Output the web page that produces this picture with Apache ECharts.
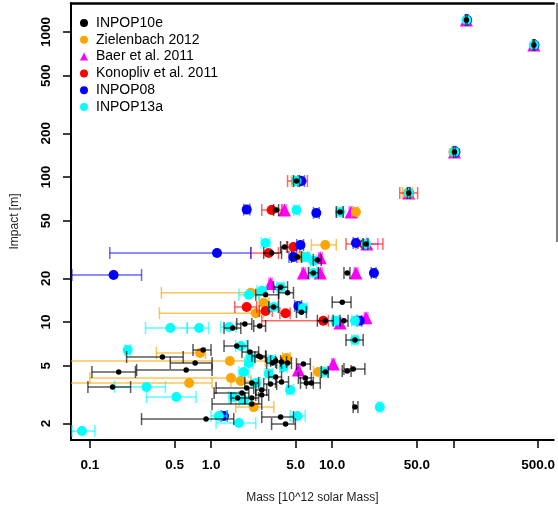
<!DOCTYPE html>
<html><head><meta charset="utf-8">
<script src="https://cdn.jsdelivr.net/npm/echarts@6.0.0/dist/echarts.min.js"></script>
<style>html,body{margin:0;padding:0;background:#fff}#c{width:558px;height:509px}</style>
</head><body><div id="c"></div>
<script>
// tick positions / labels
const xTicks = [0.1, 0.5, 1, 5, 10, 50, 100, 500];
const xLabels = [0.1, 0.5, 1, 5, 10, 50, 500];
const yTicks = [2, 5, 10, 20, 50, 100, 200, 500, 1000];

const seriesNames = ['INPOP10e', 'Zielenbach 2012', 'Baer et al. 2011', 'Konopliv et al. 2011', 'INPOP08', 'INPOP13a'];
const seriesColors = ['#000000', '#FFA500', '#FF00FF', '#FF0000', '#0000FF', '#00FFFF'];

// rows: [mass, massLow, massHigh, impact]
const inpop10e = [
  [128,126,130,1211],[461,455,467,813],[102,100,104,149],[42.8,41.8,43.8,77.6],
  [5.07,4.79,5.37,93.8],[3.48,3.28,3.61,59.2],[11.6,10.8,12.3,57.4],[4.04,3.75,4.28,32.9],
  [19.0,18.0,19.7,34.5],[3.16,2.72,3.82,29.9],[5.17,4.61,5.57,28.1],[7.54,6.98,8.12,26.8],
  [6.98,6.36,7.68,21.8],[13.3,12.5,14.0,21.8],[2.82,2.34,3.61,15.4],[3.75,3.28,4.28,17.4],
  [4.28,3.61,4.79,15.9],[12.1,10.0,14.3,13.7],[3.28,3.0,3.61,12.7],[5.57,5.07,6.12,11.7],
  [8.76,7.54,10.2,10.2],[12.5,11.6,13.5,10.2],[1.51,1.28,1.76,9.09],[1.90,1.63,2.17,9.69],
  [2.52,2.25,2.82,9.38],[15.4,13.0,18.0,7.51],[1.63,1.28,2.01,6.83],[0.86,0.71,1.0,6.41],
  [0.397,0.201,0.589,5.74],[2.09,1.80,2.47,6.21],[2.47,2.17,2.82,5.83],[0.739,0.461,1.02,5.21],
  [3.41,3.10,3.75,5.38],[3.82,3.41,4.20,5.30],[4.28,3.82,4.61,5.21],[5.78,5.07,6.60,5.13],
  [3.22,2.88,3.48,5.21],[0.624,0.243,1.02,4.67],[0.173,0.104,0.238,4.52],[8.76,8.12,9.27,4.52],
  [13.3,12.1,14.3,4.59],[14.9,12.5,18.6,4.74],[3.41,2.99,3.82,4.18],[6.0,5.26,6.73,4.11],
  [2.17,1.90,2.47,3.80],[3.10,2.72,3.48,3.74],[3.82,3.41,4.36,3.86],[6.12,5.47,6.98,3.80],
  [6.73,6.12,7.97,3.80],[0.154,0.0964,0.217,3.56],[1.97,1.10,2.25,3.51],[2.62,2.34,2.88,3.40],
  [1.80,1.06,2.05,3.24],[2.62,2.34,2.99,3.14],[1.66,1.46,1.90,2.99],[2.17,1.90,2.47,2.99],
  [2.17,1.02,2.62,2.72],[15.4,14.9,16.3,2.59],[0.91,0.267,1.54,2.14],[3.75,2.62,4.79,2.21],
  [4.12,3.16,4.97,1.98],[2.57,2.3,2.85,5.74]
];
const zielenbach2012 = [
  [100,98,103,149],[42,38,46,77.6],[5.0,4.6,5.5,93.8],[8.76,6.73,10.8,34.0],
  [15.7,14.5,16.3,57.4],[2.13,0.389,2.52,15.9],[2.34,0.375,2.72,11.5],[0.813,0.354,0.90,6.11],
  [1.43,0.05,2.8,5.38],[1.46,0.1,1.80,4.11],[0.66,0.05,1.02,3.80],[1.76,1.46,2.13,3.92],
  [2.25,1.6,3.3,2.59],[4.20,3.9,4.5,5.65],[7.68,7.0,8.4,4.52],[2.72,2.5,3.0,13.5],
  [5.78,5.3,6.3,28.1]
];
const baer2011 = [
  [128,125,131,1211],[461,452,470,813],[102,100,104,149],[42.8,41.8,43.8,77.6],
  [4.04,3.9,4.2,59.2],[14.3,13.8,14.9,57.4],[19.3,15.7,23.8,34.5],[7.97,7.7,8.3,27.7],
  [5.78,5.6,6.0,21.8],[7.97,7.7,8.3,21.8],[15.7,15.2,16.3,21.8],[3.10,3.0,3.2,18.4],
  [19.0,18.4,19.7,10.7],[11.6,11.2,12.0,9.85],[5.26,5.1,5.45,4.67],[10.2,9.9,10.5,5.13]
];
const konopliv2011 = [
  [43,36.1,50.7,77.6],[5.17,4.28,6.24,93.8],[3.16,2.62,3.82,59.2],[18.3,13.0,26.2,34.5],
  [4.79,4.2,5.4,32.9],[2.99,2.13,3.6,29.9],[1.97,1.57,2.38,12.7],[2.82,2.5,3.2,11.9],
  [4.12,3.7,4.5,11.5],[8.44,2.62,9.3,10.2]
];
const inpop08 = [
  [130,128,132,1211],[467,461,473,813],[104,102,106,149],[5.57,5.2,5.9,93.8],
  [1.97,1.86,2.09,59.6],[7.39,7.0,7.8,56.5],[5.47,5.1,5.8,34.0],[15.7,14.9,16.3,35.1],
  [1.12,0.146,2.13,29.9],[4.79,4.4,5.1,28.1],[22.1,21.0,23.0,21.8],[0.157,0.0712,0.267,21.1],
  [5.26,4.9,5.6,12.9],[16.9,16.0,17.5,10.2],[1.28,1.21,1.36,2.25]
];
const inpop13a = [
  [128,126,130,1211],[461,455,467,813],[102,100,104,149],[42.8,41.8,43.8,77.6],
  [5.07,4.85,5.3,93.8],[5.07,4.8,5.35,59.2],[11.6,11.0,12.2,57.4],[2.82,2.6,3.05,35.1],
  [19.0,18.0,20.0,34.5],[6.12,5.7,6.5,28.1],[6.98,6.6,7.4,26.5],[6.98,6.5,7.5,21.8],
  [2.05,1.70,2.47,15.4],[2.62,2.4,2.85,16.4],[3.75,3.5,4.0,17.4],[3.28,3.0,3.55,12.7],
  [5.78,5.3,6.2,12.5],[10.6,10.0,11.3,10.2],[15.4,14.5,16.3,10.2],[0.461,0.288,0.636,9.09],
  [0.797,0.636,0.96,9.09],[1.41,1.2,1.6,9.23],[0.205,0.195,0.215,6.41],[1.76,1.6,1.95,6.83],
  [15.4,14.5,16.3,7.51],[2.05,1.9,2.2,5.21],[2.13,1.95,2.3,5.65],[3.16,2.95,3.4,5.47],
  [3.97,3.7,4.25,4.90],[8.6,8.1,9.1,4.52],[0.293,0.16,0.42,3.56],[2.34,2.15,2.55,3.80],
  [1.86,1.7,2.05,2.90],[1.54,1.4,1.7,3.04],[0.517,0.293,0.753,3.04],[1.16,1.0,1.35,2.25],
  [1.70,1.10,2.34,2.01],[0.086,0.0712,0.110,1.77],[5.17,4.5,6.0,2.25],[24.7,23.8,25.5,2.59],
  [4.5,4.2,4.8,3.40],[1.86,1.7,2.05,4.52],[3.0,2.8,3.2,4.4]
];

const allData = [inpop10e, zielenbach2012, baer2011, konopliv2011, inpop08, inpop13a];
const symbols = ['circle', 'circle', 'triangle', 'circle', 'circle', 'circle'];
const sizes = [5.5, 10, 13, 10, 10, 10];
const barAlpha = [0.65, 0.65, 0.55, 0.6, 0.6, 0.65];
// drawing order (bottom to top)
const drawOrder = [2, 1, 3, 4, 5, 0];

function hexToRgba(hex, a) {
  const n = parseInt(hex.slice(1), 16);
  return 'rgba(' + ((n >> 16) & 255) + ',' + ((n >> 8) & 255) + ',' + (n & 255) + ',' + a + ')';
}

const series = [];
drawOrder.forEach(function (i, k) {
  const col = seriesColors[i];
  const stroke = hexToRgba(col, barAlpha[i]);
  series.push({
    type: 'custom',
    name: seriesNames[i] + ' (err)',
    clip: true,
    z: 2 + k * 2,
    silent: true,
    data: allData[i].map(function (d) { return [d[0], d[1], d[2], d[3]]; }),
    encode: { x: 0, y: 3 },
    renderItem: function (params, api) {
      const y = api.value(3);
      const a = api.coord([api.value(1), y]);
      const b = api.coord([api.value(2), y]);
      const h = 6;
      const st = { stroke: stroke, lineWidth: 1.5 };
      return {
        type: 'group',
        children: [
          { type: 'line', shape: { x1: a[0], y1: a[1], x2: b[0], y2: b[1] }, style: st },
          { type: 'line', shape: { x1: a[0], y1: a[1] - h, x2: a[0], y2: a[1] + h }, style: st },
          { type: 'line', shape: { x1: b[0], y1: b[1] - h, x2: b[0], y2: b[1] + h }, style: st }
        ]
      };
    }
  });
  series.push({
    type: 'scatter',
    name: seriesNames[i],
    z: 3 + k * 2,
    symbol: symbols[i],
    symbolSize: sizes[i],
    itemStyle: { color: col, opacity: 1 },
    emphasis: { disabled: true },
    data: allData[i].map(function (d) { return [d[0], d[3]]; })
  });
});

const font = 'Liberation Sans, Arial, Helvetica, sans-serif';
const xMin = 0.0699, xMax = 673, yMin = 1.536, yMax = 1585;

const option = {
  animation: false,
  backgroundColor: '#ffffff',
  grid: { left: 71, right: 1, top: 3, bottom: 69, containLabel: false },
  legend: {
    orient: 'vertical', left: 75, top: 11, itemGap: 2.8, itemWidth: 8, itemHeight: 8,
    selectedMode: false,
    data: seriesNames.map(function (n, i) { return { name: n, icon: i === 2 ? 'triangle' : 'circle' }; }),
    textStyle: { fontSize: 14, color: '#000', fontFamily: font, padding: [0, 0, 0, 3] }
  },
  xAxis: [{
    type: 'log', logBase: 10, min: xMin, max: xMax, position: 'bottom',
    axisLine: { show: true, onZero: false, lineStyle: { color: '#000', width: 2 } },
    axisTick: { show: true, customValues: xTicks, length: 8, lineStyle: { color: '#000', width: 1.5 } },
    axisLabel: { customValues: xLabels, formatter: function (v) { return Number(v).toFixed(1); },
      fontWeight: 'bold', fontSize: 13.5, color: '#000', fontFamily: font, margin: 18 },
    splitLine: { show: false }, minorTick: { show: false },
    name: 'Mass [10^12 solar Mass]', nameLocation: 'middle', nameGap: 52,
    nameTextStyle: { fontSize: 12, color: '#222', fontFamily: font }
  }, {
    type: 'log', logBase: 10, min: xMin, max: xMax, position: 'top',
    axisLine: { show: true, onZero: false, lineStyle: { color: '#000', width: 2.5 } },
    axisTick: { show: false }, axisLabel: { show: false }, splitLine: { show: false }
  }],
  yAxis: {
    type: 'log', logBase: 10, min: yMin, max: yMax,
    axisLine: { show: true, onZero: false, lineStyle: { color: '#000', width: 2 } },
    axisTick: { show: true, customValues: yTicks, length: 8, lineStyle: { color: '#000', width: 1.5 } },
    axisLabel: { customValues: yTicks, rotate: 90, fontWeight: 'bold', fontSize: 13.5, color: '#000',
      fontFamily: font, margin: 18, formatter: function (v) { return String(Math.round(Number(v))); } },
    splitLine: { show: false }, minorTick: { show: false },
    name: 'Impact [m]', nameLocation: 'middle', nameGap: 50, nameRotate: 90,
    nameTextStyle: { fontSize: 12, color: '#222', fontFamily: font }
  },
  graphic: [{
    type: 'line', silent: true, z: 100,
    shape: { x1: 557, y1: 3, x2: 557, y2: 242 },
    style: { stroke: '#555', lineWidth: 1.5 }
  }],
  series: series
};

const chart = echarts.init(document.getElementById('c'));
chart.setOption(option);
</script>
</body></html>
